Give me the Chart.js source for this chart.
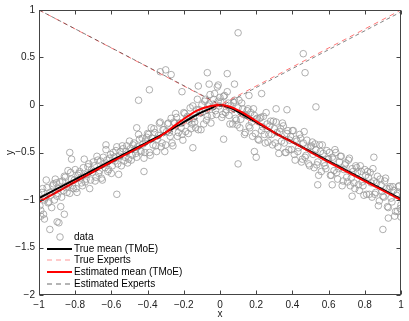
<!DOCTYPE html>
<html><head><meta charset="utf-8">
<script src="https://cdn.jsdelivr.net/npm/chart.js@4/dist/chart.umd.min.js"></script>
<style>html,body{margin:0;padding:0;background:#fff;overflow:hidden}</style>
</head><body><canvas id="c" width="409" height="321"></canvas>
<script>
// ---- scatter data ----
const dataX = [
-1.00,-0.99,-0.98,-0.97,-0.96,-0.95,-0.94,-0.93,-0.92,-0.91,
-0.90,-0.89,-0.88,-0.87,-0.86,-0.85,-0.84,-0.83,-0.82,-0.81,
-0.80,-0.79,-0.78,-0.77,-0.76,-0.75,-0.74,-0.73,-0.72,-0.71,
-0.70,-0.69,-0.68,-0.67,-0.66,-0.65,-0.64,-0.63,-0.62,-0.61,
-0.60,-0.59,-0.58,-0.57,-0.56,-0.55,-0.54,-0.53,-0.52,-0.51,
-0.50,-0.49,-0.48,-0.47,-0.46,-0.45,-0.44,-0.43,-0.42,-0.41,
-0.40,-0.39,-0.38,-0.37,-0.36,-0.35,-0.34,-0.33,-0.32,-0.31,
-0.30,-0.29,-0.28,-0.27,-0.26,-0.25,-0.24,-0.23,-0.22,-0.21,
-0.20,-0.19,-0.18,-0.17,-0.16,-0.15,-0.14,-0.13,-0.12,-0.11,
-0.10,-0.09,-0.08,-0.07,-0.06,-0.05,-0.04,-0.03,-0.02,-0.01,
0.00,
0.01,0.02,0.03,0.04,0.05,0.06,0.07,0.08,0.09,0.10,
0.11,0.12,0.13,0.14,0.15,0.16,0.17,0.18,0.19,0.20,
0.21,0.22,0.23,0.24,0.25,0.26,0.27,0.28,0.29,0.30,
0.31,0.32,0.33,0.34,0.35,0.36,0.37,0.38,0.39,0.40,
0.41,0.42,0.43,0.44,0.45,0.46,0.47,0.48,0.49,0.50,
0.51,0.52,0.53,0.54,0.55,0.56,0.57,0.58,0.59,0.60,
0.61,0.62,0.63,0.64,0.65,0.66,0.67,0.68,0.69,0.70,
0.71,0.72,0.73,0.74,0.75,0.76,0.77,0.78,0.79,0.80,
0.81,0.82,0.83,0.84,0.85,0.86,0.87,0.88,0.89,0.90,
0.91,0.92,0.93,0.94,0.95,0.96,0.97,0.98,0.99,1.00,
-0.995,-0.985,-0.975,-0.965,-0.955,-0.945,-0.935,-0.925,-0.915,-0.905,
-0.895,-0.885,-0.875,-0.865,-0.855,-0.845,-0.835,-0.825,-0.815,-0.805,
-0.795,-0.785,-0.775,-0.765,-0.755,-0.745,-0.735,-0.725,-0.715,-0.705,
-0.695,-0.685,-0.675,-0.665,-0.655,-0.645,-0.635,-0.625,-0.615,-0.605,
-0.595,-0.585,-0.575,-0.565,-0.555,-0.545,-0.535,-0.525,-0.515,-0.505,
-0.495,-0.485,-0.475,-0.465,-0.455,-0.445,-0.435,-0.425,-0.415,-0.405,
-0.395,-0.385,-0.375,-0.365,-0.355,-0.345,-0.335,-0.325,-0.315,-0.305,
-0.295,-0.285,-0.275,-0.265,-0.255,-0.245,-0.235,-0.225,-0.215,-0.205,
-0.195,-0.185,-0.175,-0.165,-0.155,-0.145,-0.135,-0.125,-0.115,-0.105,
-0.095,-0.085,-0.075,-0.065,-0.055,-0.045,-0.035,-0.025,-0.015,-0.005,
0.005,0.015,0.025,0.035,0.045,0.055,0.065,0.075,0.085,0.095,
0.105,0.115,0.125,0.135,0.145,0.155,0.165,0.175,0.185,0.195,
0.205,0.215,0.225,0.235,0.245,0.255,0.265,0.275,0.285,0.295,
0.305,0.315,0.325,0.335,0.345,0.355,0.365,0.375,0.385,0.395,
0.405,0.415,0.425,0.435,0.445,0.455,0.465,0.475,0.485,0.495,
0.505,0.515,0.525,0.535,0.545,0.555,0.565,0.575,0.585,0.595,
0.605,0.615,0.625,0.635,0.645,0.655,0.665,0.675,0.685,0.695,
0.705,0.715,0.725,0.735,0.745,0.755,0.765,0.775,0.785,0.795,
0.805,0.815,0.825,0.835,0.845,0.855,0.865,0.875,0.885,0.895,
0.905,0.915,0.925,0.935,0.945,0.955,0.965,0.975,0.985,0.995,
0.10,0.46,0.47,-0.39,-0.45,-0.46,-0.63,-0.83,-0.07,0.04,
-0.30,-0.33,-0.27,-0.06,-0.01,-0.21,0.08,0.23,0.31,0.10,
0.20,0.19,0.53,0.37,0.54,0.62,0.85,0.90,0.93,0.73,
-0.82,-0.94,-0.89,-0.90,-0.86,-0.57,-0.42,-0.99,-0.97,1.00,
0.98,-0.15,0.02,0.16,-0.12
];
const dataY = [
-0.95,-1.11,-0.88,-1.00,-0.79,-1.03,-0.92,-1.08,-0.83,-0.78,
-0.96,-0.88,-1.07,-0.80,-0.75,-0.87,-0.69,-0.93,-0.78,-0.88,
-0.68,-0.92,-0.72,-0.77,-0.85,-0.57,-0.78,-0.65,-0.88,-0.68,
-0.60,-0.80,-0.54,-0.72,-0.59,-0.79,-0.62,-0.47,-0.70,-0.56,
-0.72,-0.50,-0.59,-0.44,-0.73,-0.49,-0.43,-0.59,-0.49,-0.61,
-0.38,-0.58,-0.42,-0.47,-0.55,-0.31,-0.48,-0.35,-0.56,-0.38,
-0.30,-0.50,-0.24,-0.42,-0.29,-0.49,-0.32,-0.18,-0.40,-0.26,
-0.42,-0.20,-0.29,-0.14,-0.43,-0.19,-0.13,-0.29,-0.19,-0.31,
-0.08,-0.28,-0.12,-0.17,-0.25,-0.01,-0.18,-0.05,-0.26,-0.08,
0.00,-0.20,0.06,-0.12,0.01,-0.19,-0.02,0.12,-0.10,0.04,
0.08,
-0.13,0.09,-0.08,0.14,-0.11,-0.01,-0.20,0.05,-0.16,-0.03,
-0.24,0.02,-0.10,-0.29,-0.06,-0.22,-0.08,-0.33,-0.11,-0.15,
-0.36,-0.14,-0.27,-0.12,-0.40,-0.20,-0.31,-0.17,-0.42,-0.25,
-0.18,-0.44,-0.28,-0.38,-0.22,-0.50,-0.30,-0.47,-0.33,-0.27,
-0.52,-0.36,-0.49,-0.31,-0.60,-0.40,-0.55,-0.37,-0.62,-0.44,
-0.39,-0.66,-0.47,-0.60,-0.42,-0.70,-0.51,-0.64,-0.48,-0.57,
-0.74,-0.55,-0.69,-0.50,-0.78,-0.60,-0.54,-0.80,-0.63,-0.76,
-0.58,-0.85,-0.67,-0.82,-0.64,-0.71,-0.90,-0.70,-0.85,-0.68,
-0.94,-0.76,-0.71,-0.97,-0.80,-0.92,-0.75,-1.01,-0.84,-0.96,
-0.80,-0.88,-1.08,-0.86,-1.02,-0.90,-1.12,-0.93,-0.85,-1.05,
-1.06,-0.92,-1.15,-0.98,-0.87,-1.02,-0.95,-0.85,-1.00,-0.82,
-0.93,-0.81,-0.97,-0.90,-0.76,-0.92,-0.84,-0.71,-0.85,-0.79,
-0.88,-0.74,-0.70,-0.82,-0.66,-0.81,-0.73,-0.62,-0.79,-0.71,
-0.64,-0.76,-0.58,-0.69,-0.77,-0.55,-0.66,-0.58,-0.68,-0.52,
-0.64,-0.55,-0.48,-0.62,-0.54,-0.64,-0.46,-0.55,-0.43,-0.57,
-0.46,-0.53,-0.40,-0.51,-0.44,-0.36,-0.49,-0.41,-0.50,-0.34,
-0.31,-0.53,-0.35,-0.25,-0.43,-0.36,-0.19,-0.44,-0.26,-0.49,
-0.28,-0.19,-0.33,-0.40,-0.18,-0.09,-0.33,-0.19,-0.24,-0.37,
-0.09,-0.14,-0.30,-0.03,-0.20,-0.14,-0.24,0.06,-0.05,-0.26,
-0.07,0.04,-0.16,-0.01,0.11,-0.11,0.06,-0.06,0.19,-0.01,
0.03,-0.10,0.10,-0.05,0.02,-0.20,-0.05,0.03,-0.14,-0.21,
0.05,-0.15,-0.04,-0.31,-0.11,-0.04,-0.24,-0.18,-0.04,-0.30,
-0.14,-0.37,-0.13,-0.23,-0.31,-0.08,-0.39,-0.22,-0.31,-0.17,
-0.40,-0.29,-0.51,-0.25,-0.19,-0.40,-0.50,-0.27,-0.37,-0.47,
-0.27,-0.58,-0.38,-0.45,-0.35,-0.57,-0.28,-0.53,-0.45,-0.64,
-0.43,-0.52,-0.41,-0.63,-0.74,-0.49,-0.42,-0.61,-0.67,-0.57,
-0.50,-0.74,-0.57,-0.47,-0.71,-0.67,-0.54,-0.85,-0.68,-0.61,
-0.81,-0.56,-0.77,-0.70,-0.88,-0.66,-0.84,-0.64,-0.81,-0.95,
-0.74,-0.70,-0.94,-0.82,-0.67,-0.94,-0.82,-1.06,-0.78,-0.91,
-0.97,-0.77,-1.07,-0.88,-0.98,-0.86,-1.17,-0.95,-0.86,-1.09,
0.76,0.54,0.34,0.16,0.05,-0.24,-0.42,-0.50,0.34,0.33,
0.37,0.35,0.32,0.22,0.21,0.14,0.22,0.12,-0.04,-0.62,
-0.55,-0.49,-0.02,-0.05,-0.84,-0.84,-0.55,-1.31,-1.19,-0.96,
-0.57,-1.31,-1.24,-1.23,-1.15,-0.94,-0.70,-1.17,-1.20,-1.18,
-1.12,-0.45,-0.36,0.10,0.20
];

// ---- mean curves ----
const trueMeanX = [-1, -0.6, -0.4, -0.3, -0.217, -0.125, -0.05, -0.01, 0.05, 0.126, 0.2, 0.3, 0.4, 0.6, 1];
const trueMeanY = [-0.98, -0.585, -0.39, -0.29, -0.20, -0.10, -0.035, -0.003, -0.025, -0.10, -0.18, -0.29, -0.39, -0.59, -0.99];
const estMeanX  = [-1, -0.6, -0.4, -0.33, -0.217, -0.125, -0.05, 0, 0.05, 0.126, 0.2, 0.3, 0.4, 0.6, 1];
const estMeanY  = [-1.02, -0.60, -0.40, -0.33, -0.17, -0.056, -0.01, 0.0, -0.015, -0.08, -0.17, -0.29, -0.39, -0.60, -1.00];

// ---- expert lines ----
const expertX = [-1, 1];
const trueExpert1Y = [1, -1];
const trueExpert2Y = [-1, 1];
const estExpert1Y = [1.0, -0.99];
const estExpert2Y = [-1.01, 0.98];

// ---- ticks / labels ----
const xTicks = [-1, -0.8, -0.6, -0.4, -0.2, 0, 0.2, 0.4, 0.6, 0.8, 1];
const yTicks = [-2, -1.5, -1, -0.5, 0, 0.5, 1];
const legendLabels = ['data', 'True mean (TMoE)', 'True Experts', 'Estimated mean (TMoE)', 'Estimated Experts'];

const pts = (xs, ys) => xs.map((v, i) => ({x: v, y: ys[i]}));
const FONT = '"Liberation Sans", Arial, Helvetica, sans-serif';
const fmt = v => String(v).replace('-', '\u2212');

const styles = {
  data: {borderColor: '#9a9a9a', lw: 0.8},
  trueMean: {color: '#000000', lw: 2},
  trueExp: {color: 'rgb(255,120,120)', lw: 1, dash: [5, 4]},
  estMean: {color: '#ff0000', lw: 2},
  estExp: {color: '#333333', lw: 0.6, dash: [4, 3]}
};

const datasets = [
  {label: legendLabels[0], data: pts(dataX, dataY), showLine: false, pointRadius: 3.3,
   pointStyle: 'circle', backgroundColor: 'rgba(0,0,0,0)', borderColor: styles.data.borderColor,
   pointBorderWidth: styles.data.lw, order: 6},
  {label: legendLabels[1], data: pts(trueMeanX, trueMeanY), showLine: true, pointRadius: 0,
   borderColor: styles.trueMean.color, borderWidth: styles.trueMean.lw, cubicInterpolationMode: 'monotone', order: 5},
  {label: legendLabels[2], data: pts(expertX, trueExpert1Y), showLine: true, pointRadius: 0,
   borderColor: styles.trueExp.color, borderWidth: styles.trueExp.lw, borderDash: styles.trueExp.dash, order: 4},
  {label: legendLabels[2], data: pts(expertX, trueExpert2Y), showLine: true, pointRadius: 0,
   borderColor: styles.trueExp.color, borderWidth: styles.trueExp.lw, borderDash: styles.trueExp.dash, order: 4},
  {label: legendLabels[3], data: pts(estMeanX, estMeanY), showLine: true, pointRadius: 0,
   borderColor: styles.estMean.color, borderWidth: styles.estMean.lw, cubicInterpolationMode: 'monotone', order: 2},
  {label: legendLabels[4], data: pts(expertX, estExpert1Y), showLine: true, pointRadius: 0,
   borderColor: styles.estExp.color, borderWidth: styles.estExp.lw, borderDash: styles.estExp.dash, order: 1},
  {label: legendLabels[4], data: pts(expertX, estExpert2Y), showLine: true, pointRadius: 0,
   borderColor: styles.estExp.color, borderWidth: styles.estExp.lw, borderDash: styles.estExp.dash, order: 1}
];

const framePlugin = {
  id: 'frame',
  afterDatasetsDraw(chart) {
    const {ctx, chartArea: a, scales: {x, y}} = chart;
    ctx.save();
    ctx.strokeStyle = '#444';
    ctx.lineWidth = 1;
    const L = Math.round(a.left) + 0.5, R = Math.round(a.right) - 0.5;
    const T = Math.round(a.top) + 0.5, B = Math.round(a.bottom) - 0.5;
    ctx.strokeRect(L, T, R - L, B - T);
    ctx.beginPath();
    xTicks.forEach(v => {
      const p = Math.round(x.getPixelForValue(v)) + 0.5;
      ctx.moveTo(p, B); ctx.lineTo(p, B - 4);
      ctx.moveTo(p, T); ctx.lineTo(p, T + 4);
    });
    yTicks.forEach(v => {
      const p = Math.round(y.getPixelForValue(v)) + 0.5;
      ctx.moveTo(L, p); ctx.lineTo(L + 4, p);
      ctx.moveTo(R, p); ctx.lineTo(R - 4, p);
    });
    ctx.stroke();

    // axis titles
    ctx.fillStyle = '#222';
    ctx.font = '10px ' + FONT;
    ctx.textAlign = 'center';
    ctx.textBaseline = 'middle';
    ctx.fillText('x', (a.left + a.right) / 2, 314);
    ctx.save();
    ctx.translate(10, (a.top + a.bottom) / 2);
    ctx.rotate(-Math.PI / 2);
    ctx.fillText('y', 0, 0);
    ctx.restore();

    // legend
    const rows = [237, 249, 260, 272, 284];
    const x0 = 47, x1 = 72, tx = 74;
    ctx.textAlign = 'left';
    ctx.font = '10px ' + FONT;
    ctx.beginPath();
    ctx.arc(60, rows[0], 3.3, 0, Math.PI * 2);
    ctx.strokeStyle = styles.data.borderColor;
    ctx.lineWidth = styles.data.lw;
    ctx.stroke();
    const lineItem = (row, st) => {
      ctx.beginPath();
      ctx.setLineDash(st.dash || []);
      ctx.strokeStyle = st.color;
      ctx.lineWidth = st.lw;
      ctx.moveTo(x0, row); ctx.lineTo(x1, row);
      ctx.stroke();
      ctx.setLineDash([]);
    };
    lineItem(rows[1], styles.trueMean);
    lineItem(rows[2], {color: 'rgb(255,150,150)', lw: 1, dash: [5, 4]});
    lineItem(rows[3], styles.estMean);
    lineItem(rows[4], {color: '#444', lw: 0.8, dash: [5, 4]});
    ctx.fillStyle = '#000';
    legendLabels.forEach((t, i) => ctx.fillText(t, tx, rows[i] + 0.5));
    ctx.restore();
  }
};

new Chart(document.getElementById('c'), {
  type: 'scatter',
  data: {datasets},
  options: {
    responsive: false,
    animation: false,
    devicePixelRatio: 1,
    layout: {padding: {top: 10, right: 8, left: 0, bottom: 0}},
    plugins: {legend: {display: false}, tooltip: {enabled: false}},
    scales: {
      x: {
        type: 'linear', min: -1, max: 1,
        grid: {display: false, drawTicks: false},
        border: {display: false},
        afterBuildTicks: s => { s.ticks = xTicks.map(v => ({value: v})); },
        afterFit: s => { s.height = 26; },
        ticks: {autoSkip: false, maxRotation: 0, padding: 4, color: '#222',
                font: {size: 10, family: FONT}, callback: v => fmt(v)}
      },
      y: {
        type: 'linear', min: -2, max: 1,
        grid: {display: false, drawTicks: false},
        border: {display: false},
        afterBuildTicks: s => { s.ticks = yTicks.map(v => ({value: v})); },
        afterFit: s => { s.width = 39; },
        ticks: {autoSkip: false, padding: 4, color: '#222',
                font: {size: 10, family: FONT}, callback: v => fmt(v)}
      }
    }
  },
  plugins: [framePlugin]
});
</script>
</body></html>
